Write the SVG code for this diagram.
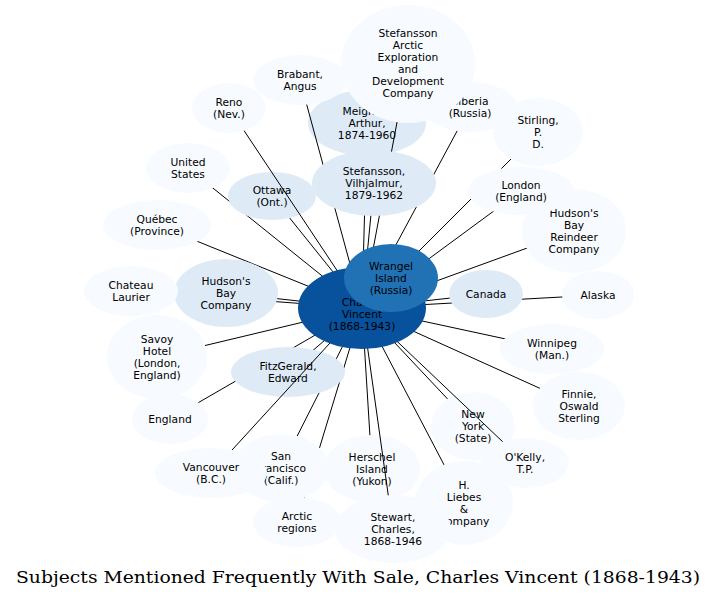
<svg xmlns="http://www.w3.org/2000/svg" width="717" height="599" viewBox="0 0 717 599">
<style>
.L{fill:#f7fbff}
.M{fill:#deebf7}
.W{fill:#2171b5}
.C{fill:#08519c}
text{font-family:"DejaVu Sans",Verdana,sans-serif;font-size:10.7px;text-anchor:middle;fill:#000}
.e line{stroke:#000;stroke-width:1}
.title{font-family:"DejaVu Serif","Liberation Serif",serif;font-size:16px}
</style>
<rect width="717" height="599" fill="#fff"/>
<g id="edges" class="e">
<line x1="367" y1="123" x2="362" y2="308"/>
<line x1="470" y1="107" x2="362" y2="308"/>
<line x1="538" y1="132" x2="362" y2="308"/>
<line x1="374" y1="183" x2="362" y2="308"/>
<line x1="272" y1="196" x2="362" y2="308"/>
<line x1="188" y1="168" x2="362" y2="308"/>
<line x1="157" y1="225" x2="362" y2="308"/>
<line x1="521" y1="191" x2="362" y2="308"/>
<line x1="574" y1="231" x2="362" y2="308"/>
<line x1="226" y1="293" x2="362" y2="308"/>
<line x1="131" y1="291" x2="362" y2="308"/>
<line x1="486" y1="294" x2="362" y2="308"/>
<line x1="598" y1="295" x2="362" y2="308"/>
<line x1="157" y1="357" x2="362" y2="308"/>
<line x1="288" y1="372" x2="362" y2="308"/>
<line x1="170" y1="419" x2="362" y2="308"/>
<line x1="552" y1="349" x2="362" y2="308"/>
<line x1="579" y1="406" x2="362" y2="308"/>
<line x1="281" y1="468" x2="362" y2="308"/>
<line x1="297" y1="522" x2="362" y2="308"/>
<line x1="372" y1="469" x2="362" y2="308"/>
<line x1="464" y1="503" x2="362" y2="308"/>
<line x1="473" y1="426" x2="362" y2="308"/>
<line x1="391" y1="278" x2="362" y2="308"/>
</g>
<g id="n-meighen"><ellipse class="M" cx="367" cy="123" rx="59" ry="33"/><text x="367" y="114.5">Meighen,</text><text x="367" y="126.5">Arthur,</text><text x="367" y="138.5">1874-1960</text></g>
<g id="n-ottawa"><ellipse class="M" cx="272" cy="196" rx="44" ry="24"/><text x="272" y="193.5">Ottawa</text><text x="272" y="205.5">(Ont.)</text></g>
<g id="n-fitzgerald"><ellipse class="M" cx="288" cy="372" rx="57" ry="25"/><text x="288" y="369.5">FitzGerald,</text><text x="288" y="381.5">Edward</text></g>
<g id="n-herschel"><ellipse class="L" cx="372" cy="469" rx="48" ry="34"/><text x="372" y="460.5">Herschel</text><text x="372" y="472.5">Island</text><text x="372" y="484.5">(Yukon)</text></g>
<g id="n-newyork"><ellipse class="L" cx="473" cy="426" rx="42" ry="34"/><text x="473" y="417.5">New</text><text x="473" y="429.5">York</text><text x="473" y="441.5">(State)</text></g>
<g id="edges-over" class="e">
<line x1="300" y1="80" x2="362" y2="308"/>
<line x1="408" y1="64" x2="362" y2="308"/>
<line x1="229" y1="108" x2="362" y2="308"/>
<line x1="211" y1="473" x2="362" y2="308"/>
<line x1="393" y1="529" x2="362" y2="308"/>
<line x1="525" y1="463" x2="362" y2="308"/>
</g>
<g id="n-reno"><ellipse class="L" cx="229" cy="108" rx="37" ry="25"/><text x="229" y="105.5">Reno</text><text x="229" y="117.5">(Nev.)</text></g>
<g id="n-brabant"><ellipse class="L" cx="300" cy="80" rx="47" ry="25"/><text x="300" y="77.5">Brabant,</text><text x="300" y="89.5">Angus</text></g>
<g id="n-siberia"><ellipse class="L" cx="470" cy="107" rx="47" ry="25"/><text x="470" y="104.5">Siberia</text><text x="470" y="116.5">(Russia)</text></g>
<g id="n-stefarctic"><ellipse class="L" cx="408" cy="64" rx="67" ry="59"/><text x="408" y="36.5">Stefansson</text><text x="408" y="48.5">Arctic</text><text x="408" y="60.5">Exploration</text><text x="408" y="72.5">and</text><text x="408" y="84.5">Development</text><text x="408" y="96.5">Company</text></g>
<g id="n-stirling"><ellipse class="L" cx="538" cy="132" rx="45" ry="34"/><text x="538" y="123.5">Stirling,</text><text x="538" y="135.5">P.</text><text x="538" y="147.5">D.</text></g>
<g id="n-stefansson"><ellipse class="M" cx="374" cy="183" rx="62" ry="33"/><text x="374" y="174.5">Stefansson,</text><text x="374" y="186.5">Vilhjalmur,</text><text x="374" y="198.5">1879-1962</text></g>
<g id="n-us"><ellipse class="L" cx="188" cy="168" rx="42" ry="25"/><text x="188" y="165.5">United</text><text x="188" y="177.5">States</text></g>
<g id="n-quebec"><ellipse class="L" cx="157" cy="225" rx="54" ry="25"/><text x="157" y="222.5">Québec</text><text x="157" y="234.5">(Province)</text></g>
<g id="n-hbrc"><ellipse class="L" cx="574" cy="231" rx="52" ry="42"/><text x="574" y="216.5">Hudson's</text><text x="574" y="228.5">Bay</text><text x="574" y="240.5">Reindeer</text><text x="574" y="252.5">Company</text></g>
<g id="n-london"><ellipse class="L" cx="521" cy="191" rx="53" ry="24"/><text x="521" y="188.5">London</text><text x="521" y="200.5">(England)</text></g>
<g id="n-hbc"><ellipse class="M" cx="226" cy="293" rx="52" ry="34"/><text x="226" y="284.5">Hudson's</text><text x="226" y="296.5">Bay</text><text x="226" y="308.5">Company</text></g>
<g id="n-chateau"><ellipse class="L" cx="131" cy="291" rx="47" ry="25"/><text x="131" y="288.5">Chateau</text><text x="131" y="300.5">Laurier</text></g>
<g id="n-canada"><ellipse class="M" cx="486" cy="294" rx="37" ry="24"/><text x="486" y="297.5">Canada</text></g>
<g id="n-alaska"><ellipse class="L" cx="598" cy="295" rx="36" ry="24"/><text x="598" y="298.5">Alaska</text></g>
<g id="n-savoy"><ellipse class="L" cx="157" cy="357" rx="50" ry="42"/><text x="157" y="342.5">Savoy</text><text x="157" y="354.5">Hotel</text><text x="157" y="366.5">(London,</text><text x="157" y="378.5">England)</text></g>
<g id="n-england"><ellipse class="L" cx="170" cy="419" rx="38" ry="25"/><text x="170" y="422.5">England</text></g>
<g id="n-winnipeg"><ellipse class="L" cx="552" cy="349" rx="52" ry="25"/><text x="552" y="346.5">Winnipeg</text><text x="552" y="358.5">(Man.)</text></g>
<g id="n-finnie"><ellipse class="L" cx="579" cy="406" rx="46" ry="34"/><text x="579" y="397.5">Finnie,</text><text x="579" y="409.5">Oswald</text><text x="579" y="421.5">Sterling</text></g>
<g id="n-arctic"><ellipse class="L" cx="297" cy="522" rx="44" ry="25"/><text x="297" y="519.5">Arctic</text><text x="297" y="531.5">regions</text></g>
<g id="n-sanfrancisco"><ellipse class="L" cx="281" cy="468" rx="48" ry="34"/><text x="281" y="459.5">San</text><text x="281" y="471.5">Francisco</text><text x="281" y="483.5">(Calif.)</text></g>
<g id="n-vancouver"><ellipse class="L" cx="211" cy="473" rx="56" ry="25"/><text x="211" y="470.5">Vancouver</text><text x="211" y="482.5">(B.C.)</text></g>
<g id="n-liebes"><ellipse class="L" cx="464" cy="503" rx="49" ry="42"/><text x="464" y="488.5">H.</text><text x="464" y="500.5">Liebes</text><text x="464" y="512.5">&amp;</text><text x="464" y="524.5">Company</text></g>
<g id="n-stewart"><ellipse class="L" cx="393" cy="529" rx="58" ry="34"/><text x="393" y="520.5">Stewart,</text><text x="393" y="532.5">Charles,</text><text x="393" y="544.5">1868-1946</text></g>
<g id="n-okelly"><ellipse class="L" cx="525" cy="463" rx="44" ry="25"/><text x="525" y="460.5">O'Kelly,</text><text x="525" y="472.5">T.P.</text></g>
<g id="n-center"><ellipse class="C" cx="362" cy="308" rx="64" ry="41"/><text x="362" y="293.5">Sale,</text><text x="362" y="305.5">Charles</text><text x="362" y="317.5">Vincent</text><text x="362" y="329.5">(1868-1943)</text></g>
<g id="n-wrangel"><ellipse class="W" cx="391" cy="278" rx="47" ry="34"/><text x="391" y="269.5">Wrangel</text><text x="391" y="281.5">Island</text><text x="391" y="293.5">(Russia)</text></g>
<text class="title" x="358" y="583" textLength="684" lengthAdjust="spacingAndGlyphs">Subjects Mentioned Frequently With Sale, Charles Vincent (1868-1943)</text>
</svg>
